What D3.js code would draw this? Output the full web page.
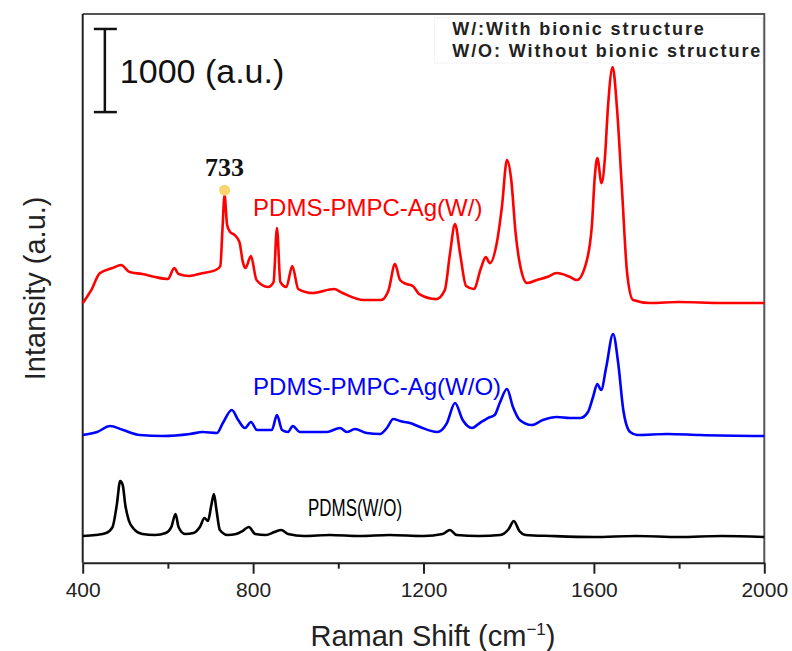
<!DOCTYPE html>
<meta charset="utf-8">
<style>
body { margin: 0; background: #fff; }
svg { display: block; font-family: "Liberation Sans", Arial, sans-serif; }
.tick text { font-size: 21px; fill: #222; }
.series_label { font-size: 24px; }
.note { font-size: 18px; font-weight: bold; fill: #222; letter-spacing: 1.9px; }
</style>
<svg width="792" height="651"></svg>
<script src="https://d3js.org/d3.v7.min.js"></script>
<script>

// spectra: [Raman shift, stacked intensity (a.u.)]
var pdms = [
  [400,321],[430,333],[455,357],[470,429],[480,694],[488,983],[494,934],[500,694],[508,513],
  [520,405],[540,345],[570,333],[595,357],[608,429],[618,586],[625,429],[640,345],[660,357],
  [675,429],[686,538],[694,502],[702,694],[708,826],[714,634],[722,393],[740,333],[760,345],
  [775,381],[790,429],[805,345],[830,333],[850,369],[866,393],[882,345],[920,321],[980,333],
  [1050,321],[1120,333],[1200,321],[1245,345],[1262,393],[1278,333],[1330,321],[1380,333],
  [1400,405],[1412,502],[1425,381],[1440,333],[1500,321],[1600,309],[1700,321],[1800,309],
  [1900,321],[2000,309]
];

var ag_without = [
  [400,1536],[434,1572],[464,1644],[495,1596],[534,1536],[588,1524],[652,1548],[682,1572],
  [715,1560],[729,1680],[750,1837],[765,1716],[781,1620],[795,1692],[809,1596],[844,1596],
  [856,1776],[868,1596],[882,1572],[893,1644],[910,1572],[941,1572],[973,1572],[1004,1620],
  [1020,1572],[1039,1608],[1067,1560],[1098,1548],[1114,1620],[1129,1728],[1145,1704],
  [1168,1680],[1192,1632],[1232,1572],[1255,1680],[1274,1921],[1292,1716],[1314,1620],
  [1332,1680],[1351,1740],[1367,1776],[1379,1921],[1396,2089],[1410,1873],[1426,1716],
  [1454,1656],[1480,1716],[1513,1752],[1544,1740],[1568,1740],[1586,1813],[1598,1993],
  [1608,2149],[1617,2077],[1629,2354],[1645,2751],[1657,2402],[1669,1837],[1685,1572],
  [1702,1536],[1772,1548],[1849,1536],[2000,1524]
];

var ag_with = [
  [400,3122],[420,3278],[440,3482],[470,3544],[490,3580],[510,3496],[540,3472],[570,3436],
  [600,3412],[615,3544],[625,3472],[650,3448],[680,3482],[712,3520],[723,3568],[728,4001],
  [733,4421],[739,4061],[746,3977],[757,3940],[768,3857],[776,3616],[782,3544],[795,3688],
  [808,3400],[835,3316],[848,3376],[856,4025],[864,3376],[878,3316],[892,3568],[906,3292],
  [940,3244],[990,3292],[1010,3244],[1060,3159],[1100,3159],[1118,3278],[1133,3591],
  [1145,3400],[1160,3352],[1175,3328],[1190,3231],[1230,3171],[1250,3278],[1262,3712],
  [1274,4073],[1286,3712],[1300,3328],[1318,3292],[1335,3544],[1346,3676],[1356,3604],
  [1372,3845],[1384,4278],[1396,4843],[1406,4603],[1416,3977],[1431,3482],[1443,3364],
  [1466,3400],[1490,3436],[1513,3484],[1544,3436],[1560,3400],[1579,3556],[1595,4037],
  [1602,4638],[1608,4867],[1618,4566],[1626,4879],[1633,5480],[1644,5961],[1654,5480],
  [1666,4481],[1678,3484],[1692,3159],[1732,3123],[1800,3135],[1900,3123],[2000,3123]
];

var series = [
  {name: "PDMS(W/O)", values: pdms, color: "#000000", labelAt: [929, 561]},
  {name: "PDMS-PMPC-Ag(W/O)", values: ag_without, color: "#0000ff", labelAt: [800, 2017]},
  {name: "PDMS-PMPC-Ag(W/)", values: ag_with, color: "#ff0000", labelAt: [800, 4170]}
];

var major_ticks = [400, 800, 1200, 1600, 2000];
var minor_ticks = [600, 1000, 1400, 1800];
var marked_peak = [733, 4421];
var scale_bar = [452, 5420, 6420];

var svg = d3.select("svg"),
    margin = {top: 14, right: 27.7, bottom: 88.3, left: 82.7},
    width = +svg.attr("width") - margin.left - margin.right,
    height = +svg.attr("height") - margin.top - margin.bottom,
    g = svg.append("g").attr("transform", "translate(" + margin.left + "," + margin.top + ")");

var x = d3.scaleLinear().domain([400, 2000]).range([0, width]);
var y = d3.scaleLinear().domain([0, 6600]).range([height, 0]);

// frame: grey top and right edges
g.append("path")
    .attr("d", "M0,0H" + width + "V" + height)
    .attr("fill", "none")
    .attr("stroke", "#555")
    .attr("stroke-width", 2);

g.append("line")
    .attr("y2", height)
    .attr("stroke", "#222")
    .attr("stroke-width", 2);

var line = d3.line()
    .x(function(d) { return x(d[0]); })
    .y(function(d) { return y(d[1]); })
    .curve(d3.curveMonotoneX);

series.forEach(function(s) {
  g.append("path")
      .datum(s.values)
      .attr("fill", "none")
      .attr("stroke", s.color)
      .attr("stroke-width", 2.6)
      .attr("stroke-linejoin", "round")
      .attr("d", line);
});

// minor ticks first, then the labelled axis on top
g.append("g")
    .attr("transform", "translate(0," + height + ")")
    .call(d3.axisBottom(x).tickValues(minor_ticks).tickSize(6).tickFormat(""))
    .call(function(a) { a.select(".domain").remove(); })
    .selectAll("line").attr("stroke", "#222").attr("stroke-width", 2);

var xAxis = g.append("g")
    .attr("transform", "translate(0," + height + ")")
    .call(d3.axisBottom(x).tickValues(major_ticks).tickSize(11).tickSizeOuter(0).tickPadding(8).tickFormat(d3.format("d")));
xAxis.select(".domain").attr("stroke", "#222").attr("stroke-width", 2);
xAxis.selectAll(".tick line").attr("stroke", "#222").attr("stroke-width", 2);
xAxis.selectAll(".tick text").attr("font-family", "Liberation Sans, Arial, sans-serif");

// series labels
series.forEach(function(s) {
  var t = g.append("text")
      .attr("class", "series_label")
      .attr("x", x(s.labelAt[0]))
      .attr("y", y(s.labelAt[1]))
      .attr("fill", s.color)
      .text(s.name);
  if (s.name == "PDMS(W/O)") t.attr("textLength", 94).attr("lengthAdjust", "spacingAndGlyphs");
});

// 733 peak marker
g.append("circle")
    .attr("cx", x(marked_peak[0]))
    .attr("cy", y(marked_peak[1]) - 5)
    .attr("r", 5.5)
    .attr("fill", "#f9d46c");

g.append("text")
    .attr("x", x(marked_peak[0]))
    .attr("y", y(marked_peak[1]) - 19)
    .attr("text-anchor", "middle")
    .style("font", "bold 26px 'Liberation Serif', 'Times New Roman', serif")
    .attr("fill", "#111")
    .text(marked_peak[0]);

// scale bar
var sb = g.append("g").attr("stroke", "#111").attr("stroke-width", 2.5);
sb.append("line")
    .attr("x1", x(scale_bar[0])).attr("x2", x(scale_bar[0]))
    .attr("y1", y(scale_bar[1])).attr("y2", y(scale_bar[2]));
[scale_bar[1], scale_bar[2]].forEach(function(v) {
  sb.append("line")
      .attr("x1", x(scale_bar[0]) - 11).attr("x2", x(scale_bar[0]) + 12)
      .attr("y1", y(v)).attr("y2", y(v));
});
g.append("text")
    .attr("x", x(scale_bar[0]) + 15)
    .attr("y", y((scale_bar[1] + scale_bar[2]) / 2) + 12)
    .style("font-size", "34px")
    .attr("fill", "#111")
    .text("1000 (a.u.)");

// abbreviation note, top right
g.append("rect")
    .attr("x", width - 330).attr("y", 4)
    .attr("width", 328).attr("height", 45)
    .attr("fill", "#fff")
    .attr("stroke", "#f2f2f2");
g.append("text").attr("class", "note")
    .attr("x", width - 312).attr("y", 21)
    .text("W/:With bionic structure");
g.append("text").attr("class", "note")
    .attr("x", width - 312).attr("y", 43)
    .text("W/O: Without bionic structure");

// axis titles
svg.append("text")
    .attr("x", 433)
    .attr("y", 646)
    .attr("text-anchor", "middle")
    .style("font-size", "29px")
    .attr("fill", "#222")
    .html("Raman Shift (cm<tspan dy='-11' font-size='17'>\u22121</tspan><tspan dy='11'>)</tspan>");

svg.append("text")
    .attr("transform", "translate(45," + (margin.top + height / 2) + ") rotate(-90)")
    .attr("text-anchor", "middle")
    .style("font-size", "29px")
    .attr("fill", "#222")
    .text("Intansity (a.u.)");

</script>
